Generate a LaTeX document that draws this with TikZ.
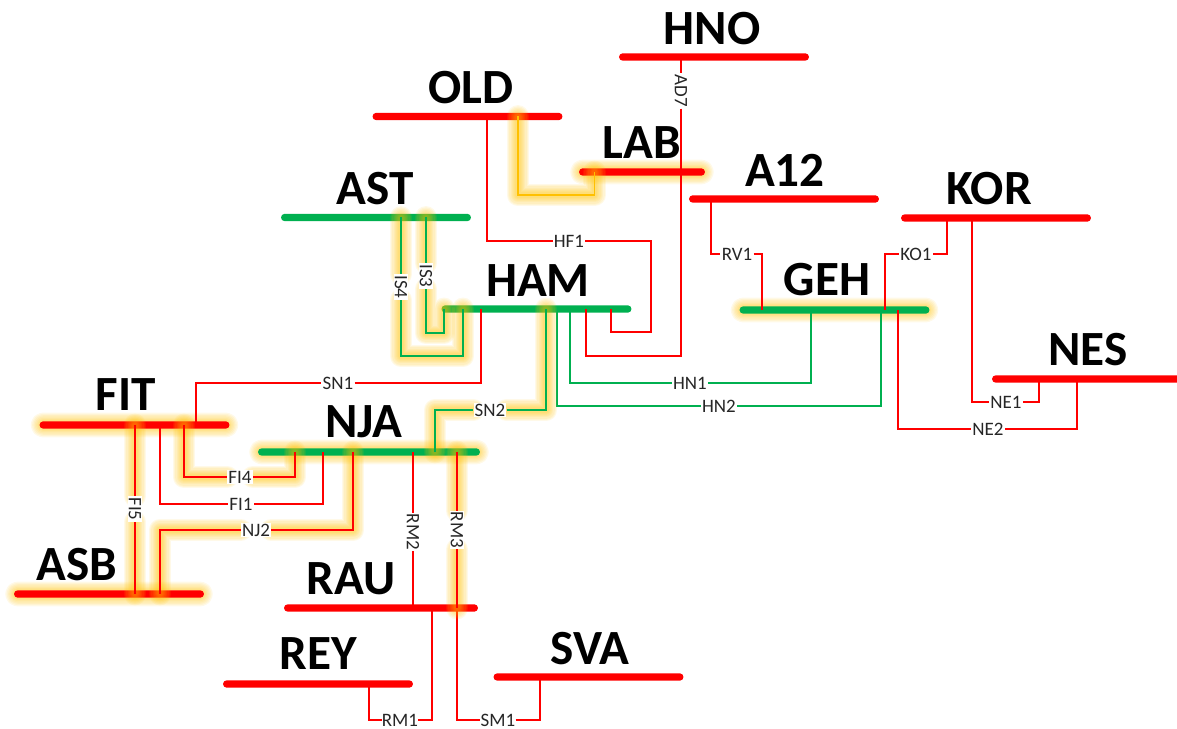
\documentclass[tikz,border=0pt]{standalone}
\usepackage{fontspec}
\setmainfont{Carlito}
\usetikzlibrary{arrows.meta}
\definecolor{busred}{HTML}{FF0000}
\definecolor{busgreen}{HTML}{00B050}
\definecolor{tieorange}{HTML}{FFC000}
\definecolor{labelgray}{HTML}{262626}
\pgfdeclarelayer{busbar}
\pgfdeclarelayer{wire}
\pgfsetlayers{busbar,wire,main}
\tikzset{
  halo/.style={preaction={draw=tieorange,draw opacity=.09,line join=round,line cap=round,line width=#1}},
  glowwire/.style={halo=13pt,halo=11.5pt,halo=10pt,halo=8.5pt,halo=7pt,halo=5.5pt,halo=4pt,halo=3pt},
  glowbus/.style={halo=10pt,halo=8.5pt,halo=7pt,halo=5.5pt,halo=4pt,halo=2.5pt,halo=1.5pt},
  bus/.style={inner sep=0pt,minimum height=4.2pt,minimum width=3.8cm,rounded corners=2.1pt},
  busname/.style={anchor=base,inner sep=0pt,font=\fontsize{28}{28}\selectfont\bfseries},
  linename/.style={fill=white,inner sep=.6pt,text=labelgray,font=\fontsize{10.8}{11}\selectfont},
  redwire/.style={draw=busred,line width=1pt},
  greenwire/.style={draw=busgreen,line width=1pt},
  orangewire/.style={draw=tieorange,line width=1pt}
}
\begin{document}
\begin{tikzpicture}[x=0.02cm,y=-0.02cm]
  \useasboundingbox (0,0) rectangle (1177,729);
  \begin{pgfonlayer}{busbar}
    \begin{scope}[every node/.style={bus,fill=busred}]
      \node (HNO) at (714,57) {};
      \node (OLD) at (467.5,116.5) {};
      \node[glowbus,minimum width=2.52cm] (LAB) at (642,172) {};
      \node (A12) at (784,199) {};
      \node (KOR) at (996,218) {};
      \node[minimum width=4cm] (NES) at (1092,379) {};
      \node[glowbus] (FIT) at (134.5,425) {};
      \node[glowbus] (ASB) at (109,594) {};
      \node[minimum width=3.88cm] (RAU) at (381,608) {};
      \node (REY) at (318,684) {};
      \node (SVA) at (588.5,677) {};
    \end{scope}
    \begin{scope}[every node/.style={bus,fill=busgreen}]
      \node (AST) at (376,217.5) {};
      \node (HAM) at (536.5,309) {};
      \node[glowbus] (GEH) at (834.5,310) {};
      \node[glowbus,minimum width=4.44cm] (NJA) at (369,452) {};
    \end{scope}
  \end{pgfonlayer}
  \begin{scope}[every node/.style={busname}]
    \node (HNOname) at (712,45) {HNO};
    \node (OLDname) at (471,104) {OLD};
    \node (LABname) at (642,159) {LAB};
    \node (ASTname) at (375,205) {AST};
    \node (HAMname) at (538,297) {HAM};
    \node (A12name) at (785,187) {A12};
    \node (KORname) at (989,205) {KOR};
    \node (GEHname) at (827,296) {GEH};
    \node (NESname) at (1088,366) {NES};
    \node (FITname) at (126,411) {FIT};
    \node (NJAname) at (364,438) {NJA};
    \node (ASBname) at (77,581) {ASB};
    \node (RAUname) at (351,594) {RAU};
    \node (REYname) at (318,669) {REY};
    \node (SVAname) at (590,664) {SVA};
  \end{scope}
  \begin{scope}[every node/.style={linename}]
    \node (HF1) at (569,241) {HF1};
    \node (SN1) at (338,383) {SN1};
    \node (SN2) at (490,410) {SN2};
    \node (HN1) at (690,383) {HN1};
    \node (HN2) at (719,406) {HN2};
    \node (RV1) at (737,254) {RV1};
    \node (KO1) at (916,254) {KO1};
    \node (NE1) at (1006,402) {NE1};
    \node (NE2) at (988,429) {NE2};
    \node (FI4) at (240,477) {FI4};
    \node (FI1) at (241,504) {FI1};
    \node (NJ2) at (256,530) {NJ2};
    \node[inner sep=0pt] (RM1) at (400,720) {RM1};
    \node[inner sep=0pt] (SM1) at (498,720) {SM1};
  \end{scope}
  \begin{scope}[every node/.style={linename,rotate=-90}]
    \node (AD7) at (681,91) {AD7};
    \node (IS4) at (401,287) {IS4};
    \node (IS3) at (426,276) {IS3};
    \node (FI5) at (135,509) {FI5};
    \node (RM2) at (413,532) {RM2};
    \node (RM3) at (457,530) {RM3};
  \end{scope}
  % points on the bars and corners of the lines
  \coordinate (AD7a) at (681,57);
  \coordinate (AD7b) at (681,356);
  \coordinate (AD7c) at (586,356);
  \coordinate (AD7d) at (586,309);
  \coordinate (OLa) at (518,116.5);
  \coordinate (OLb) at (518,195);
  \coordinate (OLc) at (594.5,195);
  \coordinate (OLd) at (594.5,172);
  \coordinate (HF1a) at (487,116.5);
  \coordinate (HF1b) at (651,332);
  \coordinate (HF1c) at (611,332);
  \coordinate (HF1d) at (611,309);
  \coordinate (IS4a) at (401,217.5);
  \coordinate (IS4b) at (401,356);
  \coordinate (IS4c) at (463,356);
  \coordinate (IS4d) at (463,309);
  \coordinate (IS3a) at (426,217.5);
  \coordinate (IS3b) at (426,333);
  \coordinate (IS3c) at (444,333);
  \coordinate (IS3d) at (444,309);
  \coordinate (SN1a) at (196,425);
  \coordinate (SN1b) at (481,309);
  \coordinate (SN2a) at (435,452);
  \coordinate (SN2b) at (546,309);
  \coordinate (HN1a) at (570,309);
  \coordinate (HN1b) at (811,310);
  \coordinate (HN2a) at (557,309);
  \coordinate (HN2b) at (881,310);
  \coordinate (RV1a) at (711,199);
  \coordinate (RV1b) at (762,310);
  \coordinate (KO1a) at (947,218);
  \coordinate (KO1b) at (885,310);
  \coordinate (NE1a) at (972,218);
  \coordinate (NE1b) at (1039,379);
  \coordinate (NE2a) at (898,310);
  \coordinate (NE2b) at (1077,379);
  \coordinate (FI4a) at (184,425);
  \coordinate (FI4b) at (295,452);
  \coordinate (FI1a) at (160,425);
  \coordinate (FI1b) at (323,452);
  \coordinate (FI5a) at (135,425);
  \coordinate (FI5b) at (135,594);
  \coordinate (NJ2a) at (353,452);
  \coordinate (NJ2b) at (160,594);
  \coordinate (RM2a) at (413,452);
  \coordinate (RM2b) at (413,608);
  \coordinate (RM3a) at (457,452);
  \coordinate (RM3b) at (457,608);
  \coordinate (RM1a) at (432,608);
  \coordinate (RM1b) at (369,684);
  \coordinate (SM1a) at (540,677);
  \begin{pgfonlayer}{wire}
    \begin{scope}[every path/.style={redwire}]
      \path (AD7a) -- (AD7);
      \path (AD7) -- (AD7b) -- (AD7c) -- (AD7d);
      \path (HF1a) |- (HF1);
      \path (HF1) -| (HF1b) -- (HF1c) -- (HF1d);
      \path (SN1a) |- (SN1);
      \path (SN1) -| (SN1b);
      \path (RV1a) |- (RV1);
      \path (RV1) -| (RV1b);
      \path (KO1a) |- (KO1);
      \path (KO1) -| (KO1b);
      \path (NE1a) |- (NE1);
      \path (NE1) -| (NE1b);
      \path (NE2a) |- (NE2);
      \path (NE2) -| (NE2b);
      \path (FI1a) |- (FI1);
      \path (FI1) -| (FI1b);
      \path (RM2a) -- (RM2);
      \path (RM2) -- (RM2b);
      \path (RM1a) |- (RM1);
      \path (RM1) -| (RM1b);
      \path (RM3b) |- (SM1);
      \path (SM1) -| (SM1a);
      \path[glowwire] (FI5a) -- (FI5);
      \path[glowwire] (FI5) -- (FI5b);
      \path[glowwire] (FI4a) |- (FI4);
      \path[glowwire] (FI4) -| (FI4b);
      \path[glowwire] (NJ2a) |- (NJ2);
      \path[glowwire] (NJ2) -| (NJ2b);
      \path[glowwire] (RM3a) -- (RM3);
      \path[glowwire] (RM3) -- (RM3b);
    \end{scope}
    \begin{scope}[every path/.style={greenwire}]
      \path (HN1a) |- (HN1);
      \path (HN1) -| (HN1b);
      \path (HN2a) |- (HN2);
      \path (HN2) -| (HN2b);
      \path[glowwire] (SN2a) |- (SN2);
      \path[glowwire] (SN2) -| (SN2b);
      \path[glowwire] (IS4a) -- (IS4);
      \path[glowwire] (IS4) -- (IS4b) -- (IS4c) -- (IS4d);
      \path[glowwire] (IS3a) -- (IS3);
      \path[glowwire] (IS3) -- (IS3b) -- (IS3c) -- (IS3d);
    \end{scope}
    \path[orangewire,glowwire] (OLa) -- (OLb) -- (OLc) -- (OLd);
  \end{pgfonlayer}
\end{tikzpicture}
\end{document}
